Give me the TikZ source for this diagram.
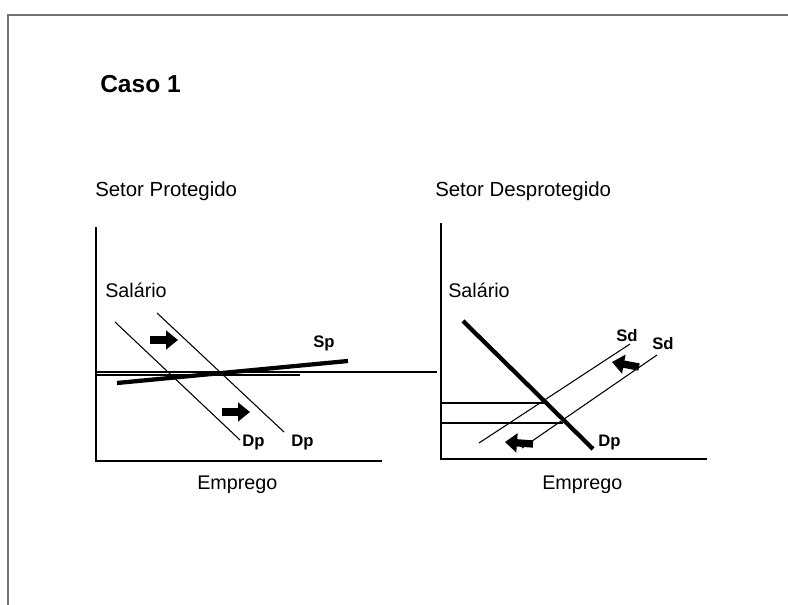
\documentclass[tikz,border=0pt]{standalone}
\usepackage{fontspec}
\setmainfont{Liberation Sans}
\usepackage{tikz}
\usetikzlibrary{arrows.meta}

\begin{document}
\begin{tikzpicture}[
    x=0.75pt, y=-0.75pt,
    txt_base/.style={inner sep=0pt, anchor=base west},
    title_txt/.style={txt_base, font=\fontsize{18.4}{22}\selectfont\bfseries},
    head_txt/.style={txt_base, font=\fontsize{15.3}{18}\selectfont},
    axis_txt/.style={txt_base, font=\fontsize{14.8}{18}\selectfont},
    curve_txt/.style={txt_base, font=\fontsize{12.5}{15}\selectfont\bfseries},
    frame_line/.style={draw=gray!90!black, line width=1.5pt},
    axis_line/.style={line width=1.2pt},
    thin_line/.style={line width=0.8pt},
    thick_line/.style={line width=3.2pt},
    shift_arrow/.style={line width=5.5pt, -{Triangle[length=9pt, width=14pt]}}
]
\useasboundingbox (0,0) rectangle (788,605);

% frame
\draw [frame_line] (8,605) -- (8,15) -- (788,15);

\node (caso)  [title_txt] at (100,93)  {Caso 1};
\node (setP)  [head_txt]  at (95,197)  {Setor Protegido};
\node (setD)  [head_txt]  at (435,197) {Setor Desprotegido};

% protected sector
\draw [axis_line] (96,227) -- (96,461) -- (382,461);
\node (salP)  [axis_txt] at (105,298) {Salário};
\node (empP)  [axis_txt] at (197,489) {Emprego};
\draw [thin_line] (96,372) -- (437,372);
\draw [thin_line] (96,375) -- (300,375);
\draw [thin_line] (115,322) -- (240,440);
\draw [thin_line] (157,313) -- (284,432);
\draw [thick_line] (117,383) -- (348,361);
\node (dpP1)  [curve_txt] at (242,446) {Dp};
\node (dpP2)  [curve_txt] at (291,446) {Dp};
\node (spP)   [curve_txt] at (313,348) {Sp};
\draw [shift_arrow] (150,340) -- (178,340);
\draw [shift_arrow] (222,412) -- (250,412);

% unprotected sector
\draw [axis_line] (441,223) -- (441,459) -- (707,459);
\node (salD)  [axis_txt] at (448,298) {Salário};
\node (empD)  [axis_txt] at (542,489) {Emprego};
\draw [thin_line] (441,403) -- (547,403);
\draw [thin_line] (441,423) -- (563,423);
\draw [thick_line] (463,321) -- (593,449);
\draw [thin_line] (479,443) -- (630,344);
\draw [thin_line] (522,448) -- (657,355);
\node (sdD1)  [curve_txt] at (616,342) {Sd};
\node (sdD2)  [curve_txt] at (652,350) {Sd};
\node (dpD)   [curve_txt] at (598,446) {Dp};
\draw [shift_arrow] (639,367) -- (612,362);
\draw [shift_arrow] (533,444) -- (505,442);

\end{tikzpicture}
\end{document}
